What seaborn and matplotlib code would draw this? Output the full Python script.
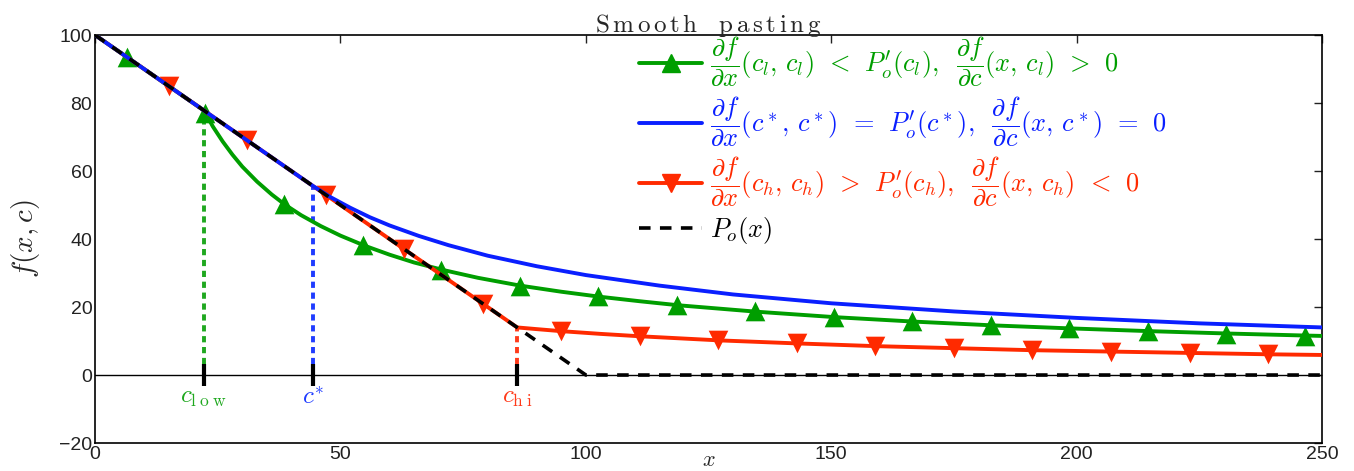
import matplotlib
matplotlib.use("Agg")
import matplotlib.pyplot as plt
import seaborn as sns
from matplotlib.lines import Line2D

# exercise boundary payoff P_o(x)
po_x = [0, 100, 250]
po_y = [100, 0, 0]

# thresholds
c_low, c_star, c_hi = 22.2, 44.4, 86.0
c_vals = [c_low, c_star, c_hi]
c_fvals = [77.8, 55.6, 14.0]
c_labels = [r"$c_{\mathrm{l\;o\;w}}$", r"$c^{*}$", r"$c_{\mathrm{h\;i}}$"]

# low threshold curve (green)
green_x = [0, 22.2, 24, 26, 28, 30, 33, 36, 38.7, 42, 46, 50, 55, 60, 65, 70.9, 78,
           86.6, 95, 103, 111, 119, 135, 151, 167, 183, 199, 215, 231, 247, 250]
green_y = [100, 77.8, 73.1, 68.7, 64.8, 61.3, 56.9, 53.1, 50.1, 47.0, 43.8, 41.0, 38.0,
           35.4, 33.1, 30.9, 28.6, 26.3, 24.5, 23.0, 21.7, 20.5, 18.6, 17.0, 15.7, 14.6,
           13.7, 12.9, 12.2, 11.6, 11.5]
green_mx = [6.5, 22.5, 38.5, 54.5, 70.5, 86.5, 102.5, 118.5, 134.5, 150.5, 166.5,
            182.5, 198.5, 214.5, 230.5, 246.5]
green_my = [93.5, 77.0, 50.3, 38.2, 31.0, 26.3, 23.1, 20.6, 18.7, 17.1, 15.8, 14.7,
            13.8, 12.9, 12.2, 11.6]

# optimal threshold curve (blue)
blue_x = [0, 44.4, 48, 52, 56, 60, 66, 72, 80, 90, 100, 115, 130, 150, 175, 200, 225, 250]
blue_y = [100, 55.6, 52.3, 49.2, 46.4, 44.0, 40.9, 38.2, 35.1, 32.0, 29.4, 26.3, 23.7,
          21.1, 18.7, 16.8, 15.2, 14.0]

# high threshold curve (red)
red_x = [0, 86, 90, 95, 103, 111, 127, 143, 159, 175, 191, 207, 223, 239, 250]
red_y = [100, 14, 13.5, 12.9, 12.1, 11.4, 10.2, 9.3, 8.5, 7.9, 7.3, 6.9, 6.5, 6.1, 5.9]
red_mx = [15, 31, 47, 63, 79, 95, 111, 127, 143, 159, 175, 191, 207, 223, 239]
red_my = [85, 69, 53, 37, 21, 12.9, 11.4, 10.2, 9.3, 8.5, 7.9, 7.3, 6.9, 6.5, 6.1]

GREEN = "#009e00"
BLUE = "#0a1fff"
RED = "#ff2a00"
c_colors = ["#1fa81f", "#1f3cff", "#ff3a1a"]

sns.set_theme(style="white")
plt.rcParams["font.family"] = ["Liberation Sans", "DejaVu Sans"]
plt.rcParams["mathtext.fontset"] = "cm"

fig = plt.figure(figsize=(13.54, 4.71), dpi=100)
ax = fig.add_axes([0.0702, 0.0594, 0.9062, 0.8662])

# vertical guides at thresholds
for cx, cy, col in zip(c_vals, c_fvals, c_colors):
    ax.plot([cx, cx], [0, cy], color=col, lw=2.8, linestyle=(0, (1.6, 1.2)), zorder=2)

ax.axhline(0, color="black", lw=1.0, zorder=1)

sns.lineplot(x=green_x, y=green_y, color=GREEN, lw=2.8, sort=False, ax=ax, zorder=3)
sns.scatterplot(x=green_mx, y=green_my, color=GREEN, marker="^", s=200, linewidth=0,
                ax=ax, zorder=3)
sns.lineplot(x=red_x, y=red_y, color=RED, lw=2.8, sort=False, ax=ax, zorder=4)
sns.scatterplot(x=red_mx, y=red_my, color=RED, marker="v", s=200, linewidth=0,
                ax=ax, zorder=4)
sns.lineplot(x=blue_x, y=blue_y, color=BLUE, lw=2.8, sort=False, ax=ax, zorder=5)
sns.lineplot(x=po_x, y=po_y, color="black", lw=2.6, linestyle=(0, (3.2, 2.6)),
             sort=False, ax=ax, zorder=6)

# black tick marks on the zero line and labels
ax.vlines(c_vals, -3.2, 3.2, color="black", lw=3, zorder=7)
for cx, lab, col in zip(c_vals, c_labels, c_colors):
    ax.text(cx, -6.5, lab, color=col, fontsize=18, ha="center", va="center")

ax.set_xlim(0, 250)
ax.set_ylim(-20, 100)
ax.set_xticks([0, 50, 100, 150, 200, 250])
ax.set_yticks([-20, 0, 20, 40, 60, 80, 100])
ax.tick_params(direction="in", top=True, right=True, length=6, width=1,
               labelsize=14, colors="#222222", pad=2)
for s in ax.spines.values():
    s.set_linewidth(1.2)
    s.set_color("black")

ax.set_title(r"$\mathrm{S\,m\,o\,o\,t\,h\ \ \ p\,a\,s\,t\,i\,n\,g}$", fontsize=18, pad=2)
ax.set_ylabel(r"$f(x,c)$", fontsize=21, labelpad=12)
ax.set_xlabel(r"$x$", fontsize=16, labelpad=-9)

handles = [
    Line2D([], [], color=GREEN, lw=2.8, marker="^", markersize=13),
    Line2D([], [], color=BLUE, lw=2.8),
    Line2D([], [], color=RED, lw=2.8, marker="v", markersize=13),
    Line2D([], [], color="black", lw=2.6, linestyle=(0, (3.2, 2.6))),
]
labels = [
    r"$\dfrac{\partial f}{\partial x}(c_l,\, c_l)\;\, <\;\, P_o'(c_l),\;\; \dfrac{\partial f}{\partial c}(x,\, c_l)\;\, >\;\, 0$",
    r"$\dfrac{\partial f}{\partial x}(c^*,\, c^*)\;\, =\;\, P_o'(c^*),\;\; \dfrac{\partial f}{\partial c}(x,\, c^*)\;\, =\;\, 0$",
    r"$\dfrac{\partial f}{\partial x}(c_h,\, c_h)\;\, >\;\, P_o'(c_h),\;\; \dfrac{\partial f}{\partial c}(x,\, c_h)\;\, <\;\, 0$",
    r"$P_o(x)$",
]
leg = ax.legend(handles, labels, loc="upper left", frameon=False, fontsize=19,
                labelspacing=0.22, handlelength=2.4, handletextpad=0.3,
                bbox_to_anchor=(0.424, 1.058), labelcolor="linecolor")

fig.savefig("out.png", dpi=100)
